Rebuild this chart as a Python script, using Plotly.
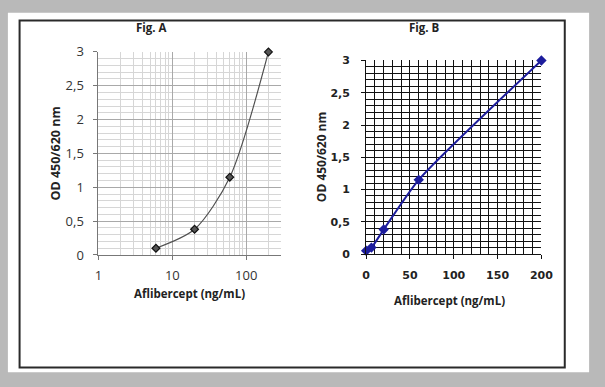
import math
import plotly.graph_objects as go

# ---- data ----
conc_a = [6, 20, 60, 200]
od_a = [0.10, 0.38, 1.15, 3.00]

conc_b = [0, 6, 20, 60, 200]
od_b = [0.05, 0.10, 0.38, 1.15, 3.00]

log_major = [1, 10, 100]
log_minor = [m * d for d in (1, 10, 100) for m in range(2, 10) if m * d <= 300]

W, H = 605, 387
def px(x):
    return x / W
def py(y):
    return 1 - y / H

fig = go.Figure()
fig.add_trace(go.Scatter(
    x=conc_a, y=od_a, mode="lines+markers", xaxis="x", yaxis="y",
    line=dict(color="#505050", width=1.2, shape="spline", smoothing=0.8),
    marker=dict(symbol="diamond", size=6, color="#555555",
                line=dict(color="#111111", width=1.2)),
    cliponaxis=False, showlegend=False))
fig.add_trace(go.Scatter(
    x=conc_b, y=od_b, mode="lines+markers", xaxis="x2", yaxis="y2",
    line=dict(color="#1c1c9c", width=2, shape="spline", smoothing=0.6),
    marker=dict(symbol="diamond", size=8, color="#1c1c9c"),
    cliponaxis=False, showlegend=False))

tickA = dict(family="Open Sans", size=13, color="#333333")
tickB = dict(family="DejaVu Sans", size=11, color="#222222", weight="bold")

fig.update_layout(
    width=W, height=H, autosize=False,
    margin=dict(l=0, r=0, t=0, b=0),
    paper_bgcolor="#b9b9b9",
    plot_bgcolor="rgba(0,0,0,0)",
    separators=", ",
    xaxis=dict(
        type="log", domain=[px(97), px(285)], range=[0, math.log10(300)],
        tickvals=log_major, ticktext=[str(v) for v in log_major],
        showgrid=True, gridcolor="#a9a9a9", gridwidth=1,
        minor=dict(tickvals=log_minor, showgrid=True, gridcolor="#d6d6d6", gridwidth=1),
        showline=True, linecolor="#777777", linewidth=1,
        ticks="outside", ticklen=4, tickcolor="#777777", ticklabelstandoff=4,
        tickfont=tickA, anchor="y", zeroline=False),
    yaxis=dict(
        domain=[py(258), py(45)], range=[0, 3], dtick=0.5,
        showgrid=True, gridcolor="#a9a9a9", gridwidth=1,
        minor=dict(dtick=0.1, showgrid=True, gridcolor="#d6d6d6", gridwidth=1),
        showline=True, linecolor="#777777", linewidth=1,
        ticks="outside", ticklen=4, tickcolor="#777777", ticklabelstandoff=7,
        tickfont=tickA, anchor="x", zeroline=False),
    xaxis2=dict(
        domain=[px(372), px(552)], range=[0, 200], dtick=50,
        showgrid=True, gridcolor="#111111", gridwidth=1,
        minor=dict(dtick=10, showgrid=True, gridcolor="#111111", gridwidth=1),
        showline=True, linecolor="#111111", linewidth=1,
        ticks="outside", ticklen=4, tickcolor="#111111", ticklabelstandoff=7,
        tickfont=tickB, anchor="y2", zeroline=False),
    yaxis2=dict(
        domain=[py(257), py(54)], range=[0, 3], dtick=0.5,
        showgrid=True, gridcolor="#111111", gridwidth=1,
        minor=dict(dtick=0.1, showgrid=True, gridcolor="#111111", gridwidth=1),
        showline=True, linecolor="#111111", linewidth=1,
        ticks="outside", ticklen=4, tickcolor="#111111", ticklabelstandoff=9,
        tickfont=tickB, anchor="x2", zeroline=False),
    shapes=[
        dict(type="rect", xref="paper", yref="paper", layer="below",
             x0=px(4), x1=px(601), y0=py(381), y1=py(4),
             fillcolor="white", line=dict(width=0)),
        dict(type="rect", xref="paper", yref="paper", layer="above",
             x0=px(16), x1=px(576), y0=py(376), y1=py(12),
             fillcolor="rgba(0,0,0,0)", line=dict(color="#2a2a2a", width=2)),
    ],
)

ann = [
    ("Fig. A", 152, 19, 0, 11.5),
    ("Fig. B", 432, 19, 0, 11.5),
    ("Aflibercept (ng/mL)", 191, 298, 0, 11.5),
    ("Aflibercept (ng/mL)", 458, 306, 0, 11.5),
    ("OD 450/620 nm", 53, 152, -90, 12.5),
    ("OD 450/620 nm", 326, 155, -90, 12),
]
for text, x, y, ang, sz in ann:
    fig.add_annotation(text=text, x=px(x), y=py(y), xref="paper", yref="paper",
                       showarrow=False, textangle=ang,
                       font=dict(family="Open Sans", size=sz, color="#222222", weight="bold"),
                       xanchor="center", yanchor="middle")

fig.write_html("out.html",
               config={"displayModeBar": False, "responsive": False},
               post_script="document.body.style.margin='0';document.documentElement.style.overflow='hidden';document.body.style.overflow='hidden';")
